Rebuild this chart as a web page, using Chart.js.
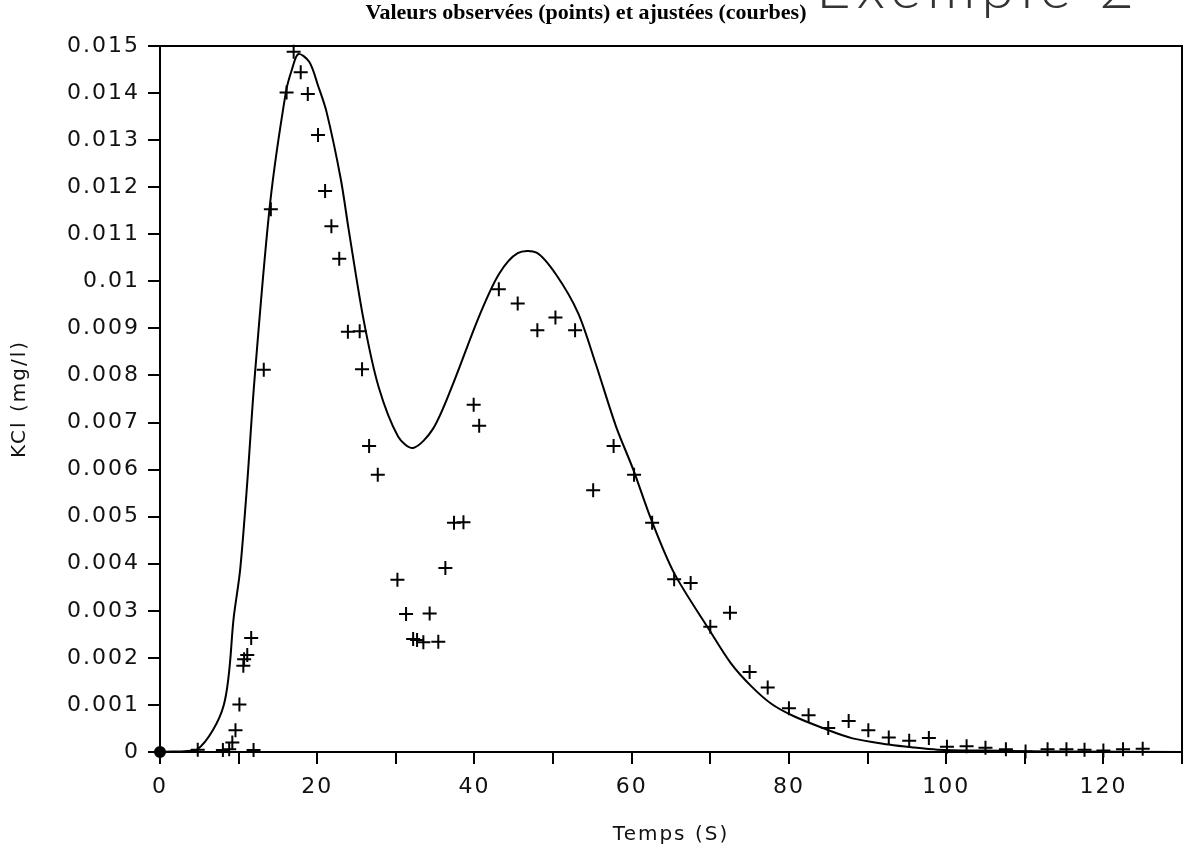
<!DOCTYPE html>
<html>
<head>
<meta charset="utf-8">
<script src="https://cdn.jsdelivr.net/npm/chart.js@4/dist/chart.umd.min.js"></script>
<style>
html,body{margin:0;padding:0;background:#fff;}
canvas{display:block;}
</style>
</head>
<body>
<canvas id="c" width="1195" height="855"></canvas>
<script>
// ---- texts ----
const titleText = 'Valeurs observées (points) et ajustées (courbes)';
const headerText = 'Exemple 2';
const xAxisTitle = 'Temps (S)';
const yAxisTitle = 'KCl (mg/l)';

// ---- tick values ----
const xTickValues = [0, 10, 20, 30, 40, 50, 60, 70, 80, 90, 100, 110, 120, 130];
const xTickLabelled = [0, 20, 40, 60, 80, 100, 120];
const yTickValues = [0, 0.001, 0.002, 0.003, 0.004, 0.005, 0.006, 0.007, 0.008, 0.009, 0.01, 0.011, 0.012, 0.013, 0.014, 0.015];

// ---- observed values (points) ----
const obsX = [0, 4.8, 8.0, 8.8, 9.2, 9.6, 10.1, 10.6, 10.7, 11.1,
  11.6, 11.9, 13.2, 14.1, 16.1, 17.0, 17.9, 18.8, 20.1, 21.0,
  21.8, 22.8, 23.9, 25.4, 25.7, 26.6, 27.7, 30.2, 31.3, 32.2,
  32.7, 33.5, 34.3, 35.4, 36.3, 37.4, 38.6, 39.9, 40.6, 43.1,
  45.5, 48.0, 50.3, 52.8, 55.1, 57.7, 60.3, 62.6, 65.4, 67.5,
  70.0, 72.5, 75.0, 77.3, 80.0, 82.5, 85.0, 87.6, 90.1, 92.7,
  95.3, 97.8, 100.1, 102.6, 105.0, 107.6, 110.1, 112.9, 115.3, 117.6,
  120.0, 122.5, 125.0];
const obsY = [0, 0.00005, 0.00004, 0.00006, 0.0002, 0.00046, 0.00101, 0.00183, 0.00197, 0.00206,
  0.00242, 0.00004, 0.00812, 0.01153, 0.01401, 0.01488, 0.01444, 0.01398, 0.01311, 0.01192,
  0.01117, 0.01048, 0.00893, 0.00894, 0.00813, 0.0065, 0.00589, 0.00366, 0.00293, 0.0024,
  0.00238, 0.00233, 0.00294, 0.00234, 0.00391, 0.00487, 0.00488, 0.00738, 0.00693, 0.00983,
  0.00953, 0.00896, 0.00923, 0.00896, 0.00556, 0.0065, 0.00589, 0.00487, 0.00367, 0.00359,
  0.00266, 0.00296, 0.0017, 0.00137, 0.00093, 0.00078, 0.00051, 0.00066, 0.00046, 0.00031,
  0.00024, 0.0003, 0.00011, 0.00012, 0.00009, 0.00006, 0.00001, 0.00006, 0.00006, 0.00005,
  0.00003, 0.00006, 0.00007];

// ---- fitted values (curve) ----
const fitX = [0, 4.7, 8.1, 9.4, 10.2, 11.1, 12.0, 14.0, 16.0, 16.8, 17.6,
  19.0, 20.1, 21.2, 23.0, 24.0, 25.9, 27.8, 30.3, 32.2, 34.7, 37.2,
  40.5, 43.1, 45.5, 47.9, 50.4, 53.2, 55.4, 58.0, 60.2, 62.5,
  65.4, 70.0, 72.6, 75.2, 77.8, 80.5, 84.3, 88.1, 92.7, 95.6,
  98.9, 105, 115, 130];
const fitY = [0, 0.00005, 0.00099, 0.00289, 0.00388, 0.00573, 0.00787, 0.01165, 0.01401, 0.01451, 0.01483,
  0.01466, 0.01416, 0.01359, 0.01217, 0.0111, 0.00918, 0.00776, 0.0067, 0.00646, 0.00686, 0.00779,
  0.00922, 0.01015, 0.0106, 0.01061, 0.01014, 0.00932, 0.00826, 0.00692, 0.006, 0.00493,
  0.0038, 0.00256, 0.00189, 0.0014, 0.00102, 0.00077, 0.00051, 0.00029, 0.00016, 0.0001,
  0.00005, 0.00003, 0.00001, 0];

const INK = '#111';
const SPACING = '2px';

const decor = {
  id: 'decor',
  beforeUpdate(chart) { chart.ctx.letterSpacing = SPACING; },
  beforeDraw(chart) {
    const ctx = chart.ctx;
    ctx.save();
    ctx.fillStyle = '#fff';
    ctx.fillRect(0, 0, chart.width, chart.height);
    ctx.restore();
    ctx.letterSpacing = SPACING;
  },
  afterDraw(chart) {
    const ctx = chart.ctx;
    const a = chart.chartArea;
    ctx.save();
    // frame top & right
    ctx.strokeStyle = '#000';
    ctx.lineWidth = 2;
    ctx.beginPath();
    ctx.moveTo(a.left, a.top);
    ctx.lineTo(a.right, a.top);
    ctx.lineTo(a.right, a.bottom);
    ctx.stroke();
    // main title
    ctx.letterSpacing = '0px';
    ctx.fillStyle = '#000';
    ctx.font = 'bold 22px "Liberation Serif", serif';
    ctx.textAlign = 'center';
    ctx.textBaseline = 'middle';
    ctx.fillText(titleText, 586, 13);
    // cut header (only its lower part is on the page)
    ctx.letterSpacing = '6px';
    ctx.font = '300 60px Lato, "DejaVu Sans", sans-serif';
    ctx.textAlign = 'left';
    ctx.textBaseline = 'alphabetic';
    ctx.fillStyle = '#333';
    ctx.fillText(headerText, 816, 8);
    ctx.restore();
    ctx.letterSpacing = SPACING;
  }
};

const tickFont = { family: '"DejaVu Sans", sans-serif', size: 22 };
const titleFont = { family: '"DejaVu Sans", sans-serif', size: 20 };

new Chart(document.getElementById('c'), {
  type: 'scatter',
  data: {
    datasets: [
      {
        label: 'ajustées',
        data: fitX.map((x, i) => ({ x: x, y: fitY[i] })),
        showLine: true,
        borderColor: '#000',
        borderWidth: 2,
        pointRadius: 0,
        tension: 0.3,
        order: 2
      },
      {
        label: 'observées',
        data: obsX.map((x, i) => ({ x: x, y: obsY[i] })),
        showLine: false,
        pointStyle: c => c.dataIndex === 0 ? 'circle' : 'cross',
        pointRadius: c => c.dataIndex === 0 ? 5 : 7,
        pointBorderWidth: 2,
        borderColor: '#000',
        backgroundColor: '#000',
        clip: false,
        order: 1
      }
    ]
  },
  options: {
    responsive: false,
    animation: false,
    devicePixelRatio: 1,
    layout: { padding: { top: 46, right: 13, left: 0, bottom: 0 } },
    plugins: {
      legend: { display: false },
      tooltip: { enabled: false },
      title: { display: false }
    },
    scales: {
      x: {
        type: 'linear',
        min: 0,
        max: 130,
        afterBuildTicks: s => { s.ticks = xTickValues.map(v => ({ value: v })); },
        afterFit: s => { s.height = 103; },
        ticks: {
          autoSkip: false,
          maxRotation: 0,
          padding: 10,
          color: INK,
          font: tickFont,
          callback: v => xTickLabelled.includes(v) ? String(v) : ''
        },
        grid: { drawOnChartArea: false, drawTicks: true, tickLength: 12, color: '#000', lineWidth: 2 },
        border: { display: true, color: '#000', width: 2 },
        title: { display: true, text: xAxisTitle, color: INK, font: titleFont, padding: { top: 0, bottom: 8 } }
      },
      y: {
        type: 'linear',
        min: 0,
        max: 0.015,
        afterBuildTicks: s => { s.ticks = yTickValues.map(v => ({ value: v })); },
        afterFit: s => { s.width = 160; },
        ticks: {
          autoSkip: false,
          padding: 8,
          color: INK,
          font: tickFont,
          callback: v => String(+Number(v).toFixed(3))
        },
        grid: { drawOnChartArea: false, drawTicks: true, tickLength: 12, color: '#000', lineWidth: 2 },
        border: { display: true, color: '#000', width: 2 },
        title: { display: true, text: yAxisTitle, color: INK, font: titleFont, padding: { top: 8, bottom: 0 } }
      }
    }
  },
  plugins: [decor]
});
</script>
</body>
</html>
